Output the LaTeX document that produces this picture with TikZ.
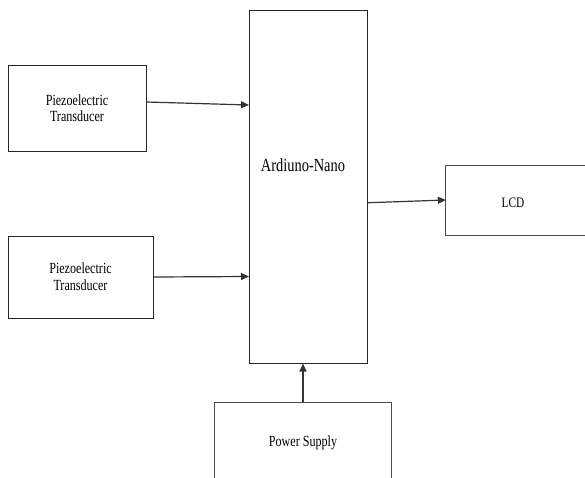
\documentclass[tikz,border=0pt]{standalone}
\usepackage{fontspec}
\setmainfont{Liberation Serif}[FakeStretch=0.78]
\usetikzlibrary{arrows.meta}
\begin{document}
\begin{tikzpicture}[x=1pt,y=-1pt,
  box/.style={draw=black!85, line width=1pt, rectangle, inner sep=0pt, align=center},
  openbox/.style={rectangle, inner sep=0pt, align=center},
  side/.style={draw=black!70, line width=1.2pt},
  arr/.style={draw=black!80, line width=1.2pt, -{Triangle[length=8pt,width=7pt]}},
  lbl/.style={font=\fontsize{15.5}{16}\selectfont}]
\useasboundingbox (0,0) rectangle (585,477);
% boxes
\node[box, lbl, minimum width=138pt, minimum height=86pt] (p1) at (77,108) {Piezoelectric\\Transducer};
\node[box, lbl, minimum width=145pt, minimum height=82pt] (p2) at (80.5,277) {Piezoelectric\\[1pt]Transducer};
\node[box, minimum width=117.5pt, minimum height=352.5pt] (ard) at (308.25,186.75) {};
\node[font=\fontsize{18.5}{20}\selectfont] (ardtxt) at (303,165) {Ardiuno-Nano};
\node[openbox, minimum width=141pt, minimum height=70pt] (lcd) at (516.5,200.5) {};
\node[font=\fontsize{14.5}{16}\selectfont] (lcdtxt) at (513,203) {LCD};
\draw[side] (lcd.north east) -- (lcd.north west) -- (lcd.south west) -- (lcd.south east);
\node[openbox, minimum width=176pt, minimum height=76pt] (ps) at (303,441) {};
\node[lbl] (pstxt) at (303,443) {Power Supply};
\draw[side] (ps.south west) -- (ps.north west) -- (ps.north east) -- (ps.south east);
% connectors
\draw[arr] ([yshift=6pt]p1.east) -- ([yshift=81.75pt]ard.west);
\draw[arr] (p2.east) -- ([yshift=-89.75pt]ard.west);
\draw[arr] ([yshift=-16pt]ard.east) -- ([yshift=0.5pt]lcd.west);
\draw[arr] ([xshift=-5.25pt]ard.south |- ps.north) -- ([xshift=-5.25pt]ard.south);
\end{tikzpicture}
\end{document}
